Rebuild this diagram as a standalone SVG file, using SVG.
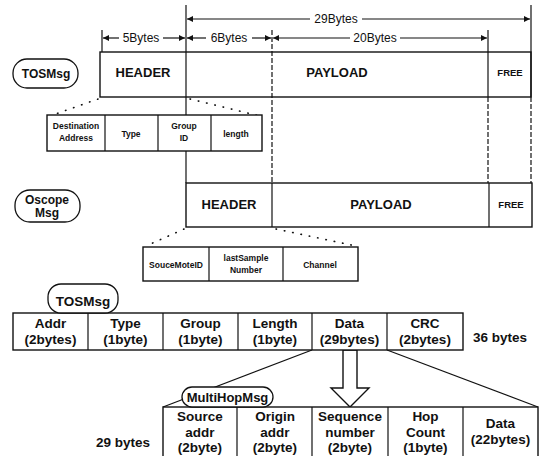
<svg xmlns="http://www.w3.org/2000/svg" width="540" height="456" viewBox="0 0 540 456">
<defs>
<marker id="ah" viewBox="0 0 10 10" refX="10" refY="5" markerWidth="8" markerHeight="6" orient="auto" markerUnits="userSpaceOnUse"><path d="M0,0 L10,5 L0,10 z" fill="#111"/></marker>
</defs>
<style>
.box{fill:#fff;stroke:#111;stroke-width:1.4}
.open{fill:none;stroke:#111;stroke-width:1.4}
.ln{stroke:#111;stroke-width:1.2;fill:none}
.dash{stroke:#111;stroke-width:1.2;stroke-dasharray:5 2;fill:none}
.dot{stroke:#111;stroke-width:1.6;stroke-dasharray:0.5 8;stroke-linecap:round;fill:none}
.arr{stroke:#111;stroke-width:1.2;fill:none;marker-end:url(#ah)}
.pill{fill:#fff;stroke:#111;stroke-width:1.3}
text{font-family:"Liberation Sans",Arial,sans-serif;fill:#111;text-anchor:middle}
.r12{font-size:12px}
.b12{font-size:12px;font-weight:bold}
.b13{font-size:13px;font-weight:bold}
.b14{font-size:13.5px;font-weight:bold}
.b9{font-size:8.5px;font-weight:bold}
.f9{font-size:9.5px;font-weight:bold}
</style>
<g id="connectors">
<line class="ln" x1="186" y1="5" x2="186" y2="183"/>
<line class="ln" x1="531" y1="5" x2="531" y2="97"/>
<line class="dash" x1="531" y1="97" x2="531" y2="183"/>
<line class="ln" x1="102" y1="30" x2="102" y2="52"/>
<line class="dash" x1="272" y1="30" x2="272" y2="183"/>
<line class="ln" x1="488" y1="30" x2="488" y2="97"/>
<line class="dash" x1="488" y1="97" x2="488" y2="183"/>
<line class="arr" x1="310" y1="19" x2="187" y2="19"/>
<line class="arr" x1="362" y1="19" x2="530" y2="19"/>
<line class="arr" x1="119" y1="38" x2="103" y2="38"/>
<line class="arr" x1="163" y1="38" x2="185" y2="38"/>
<line class="arr" x1="206" y1="38" x2="187" y2="38"/>
<line class="arr" x1="252" y1="38" x2="271" y2="38"/>
<line class="arr" x1="350" y1="38" x2="273" y2="38"/>
<line class="arr" x1="400" y1="38" x2="487" y2="38"/>
<line class="dot" x1="98" y1="99" x2="50" y2="116"/>
<line class="dot" x1="190" y1="99" x2="260" y2="116"/>
<line class="dot" x1="184" y1="229" x2="146" y2="246"/>
<line class="dot" x1="276" y1="229" x2="356" y2="246"/>
<line class="ln" x1="312" y1="350" x2="163" y2="407"/>
<line class="ln" x1="387" y1="350" x2="538" y2="407"/>
<polygon class="box" points="343,350 357,350 357,388 369,388 350,407 331,388 343,388"/>
</g>
<g id="labels-top">
<text class="r12" x="336" y="23">29Bytes</text>
<text class="r12" x="141" y="42">5Bytes</text>
<text class="r12" x="229" y="42">6Bytes</text>
<text class="r12" x="375" y="42">20Bytes</text>
</g>
<g id="tosmsg-label">
<rect class="pill" x="13" y="59" width="65" height="29" rx="14"/>
<text class="b12" x="46" y="78">TOSMsg</text>
</g>
<g id="tosmsg-frame">
<rect class="open" x="100" y="52" width="431" height="45"/>
<text class="b13" x="143" y="77">HEADER</text>
<text class="b13" x="337" y="77">PAYLOAD</text>
<text class="f9" x="510" y="76">FREE</text>
</g>
<g id="tosmsg-header">
<rect class="box" x="47" y="115" width="215" height="36"/>
<line class="ln" x1="105" y1="115" x2="105" y2="151"/>
<line class="ln" x1="158" y1="115" x2="158" y2="151"/>
<line class="ln" x1="211" y1="115" x2="211" y2="151"/>
<text class="b9" x="76" y="129">Destination</text>
<text class="b9" x="76" y="141">Address</text>
<text class="b9" x="131" y="137">Type</text>
<text class="b9" x="184" y="129">Group</text>
<text class="b9" x="184" y="141">ID</text>
<text class="b9" x="236" y="137">length</text>
</g>
<g id="oscope-label">
<rect class="pill" x="15" y="190" width="65" height="32" rx="15"/>
<text class="b12" x="47" y="204">Oscope</text>
<text class="b12" x="47" y="217">Msg</text>
</g>
<g id="oscope-frame">
<rect class="box" x="186" y="183" width="346" height="44"/>
<line class="ln" x1="272" y1="183" x2="272" y2="227"/>
<line class="ln" x1="489" y1="183" x2="489" y2="227"/>
<text class="b13" x="229" y="209">HEADER</text>
<text class="b13" x="381" y="209">PAYLOAD</text>
<text class="f9" x="511" y="208">FREE</text>
</g>
<g id="oscope-header">
<rect class="box" x="143" y="247" width="215" height="34"/>
<line class="ln" x1="209" y1="247" x2="209" y2="281"/>
<line class="ln" x1="283" y1="247" x2="283" y2="281"/>
<text class="b9" x="176" y="268">SouceMoteID</text>
<text class="b9" x="246" y="261">lastSample</text>
<text class="b9" x="246" y="273">Number</text>
<text class="b9" x="320" y="268">Channel</text>
</g>
<g id="tosmsg-row">
<rect class="box" x="13" y="313" width="450" height="37"/>
<line class="ln" x1="88" y1="313" x2="88" y2="350"/>
<line class="ln" x1="163" y1="313" x2="163" y2="350"/>
<line class="ln" x1="238" y1="313" x2="238" y2="350"/>
<line class="ln" x1="312" y1="313" x2="312" y2="350"/>
<line class="ln" x1="387" y1="313" x2="387" y2="350"/>
<text class="b14" x="50.5" y="328">Addr</text>
<text class="b14" x="50.5" y="344">(2bytes)</text>
<text class="b14" x="125.5" y="328">Type</text>
<text class="b14" x="125.5" y="344">(1byte)</text>
<text class="b14" x="200.5" y="328">Group</text>
<text class="b14" x="200.5" y="344">(1byte)</text>
<text class="b14" x="275" y="328">Length</text>
<text class="b14" x="275" y="344">(1byte)</text>
<text class="b14" x="349.5" y="328">Data</text>
<text class="b14" x="349.5" y="344">(29bytes)</text>
<text class="b14" x="425" y="328">CRC</text>
<text class="b14" x="425" y="344">(2bytes)</text>
<text class="b14" x="500" y="342">36 bytes</text>
</g>
<g id="tosmsg-label-2">
<rect class="pill" x="48" y="284" width="70" height="29" rx="13"/>
<text class="b14" x="83" y="306">TOSMsg</text>
</g>
<g id="multihop-row">
<rect class="box" x="163" y="407" width="375" height="55"/>
<line class="ln" x1="237" y1="407" x2="237" y2="456"/>
<line class="ln" x1="312" y1="407" x2="312" y2="456"/>
<line class="ln" x1="388" y1="407" x2="388" y2="456"/>
<line class="ln" x1="463" y1="407" x2="463" y2="456"/>
<text class="b14" x="200" y="421">Source</text>
<text class="b14" x="200" y="437">addr</text>
<text class="b14" x="200" y="452">(2byte)</text>
<text class="b14" x="275" y="421">Origin</text>
<text class="b14" x="275" y="437">addr</text>
<text class="b14" x="275" y="452">(2byte)</text>
<text class="b14" x="350" y="421">Sequence</text>
<text class="b14" x="350" y="437">number</text>
<text class="b14" x="350" y="452">(2byte)</text>
<text class="b14" x="425.5" y="421">Hop</text>
<text class="b14" x="425.5" y="437">Count</text>
<text class="b14" x="425.5" y="452">(1byte)</text>
<text class="b14" x="500.5" y="428">Data</text>
<text class="b14" x="500.5" y="444">(22bytes)</text>
<text class="b14" x="123" y="447">29 bytes</text>
</g>
<g id="multihop-label">
<rect class="pill" x="182" y="387" width="91" height="20" rx="10"/>
<text class="b13" x="227.5" y="402">MultiHopMsg</text>
</g>
</svg>
